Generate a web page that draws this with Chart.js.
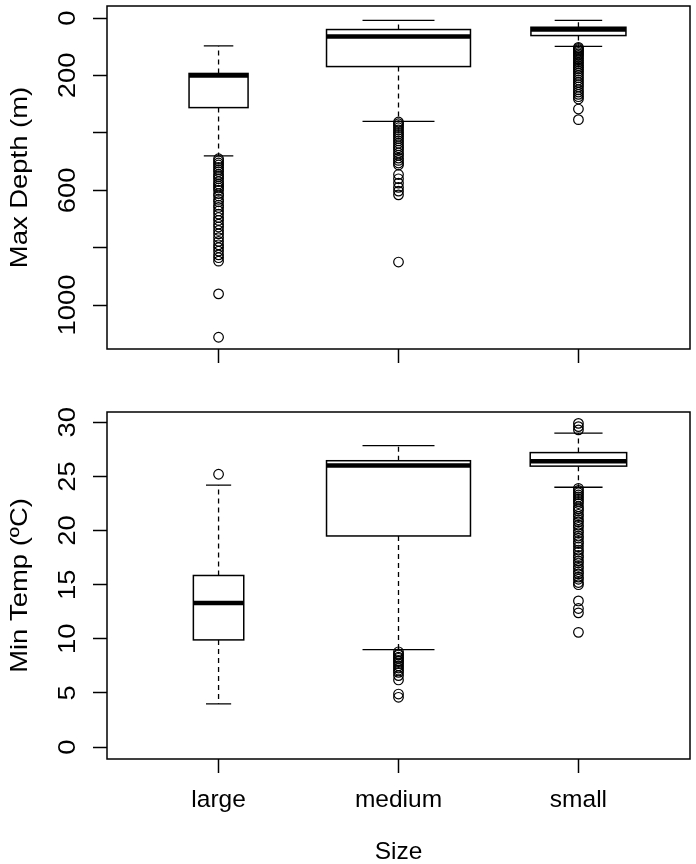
<!DOCTYPE html>
<html><head><meta charset="utf-8">
<script src="https://cdn.jsdelivr.net/npm/chart.js@4.4.0/dist/chart.umd.min.js"></script>
<style>
html,body{margin:0;padding:0;background:#fff;width:696px;height:864px;overflow:hidden}
canvas{position:absolute;left:0}
#c1{top:0}
#c2{top:380px}
</style></head>
<body>
<canvas id="c1" width="696" height="380"></canvas>
<canvas id="c2" width="696" height="484"></canvas>
<script>
const categories = ['large', 'medium', 'small'];

// ---- Max Depth (m) ----
const depthWhiskerLow  = [97, 8, 8];
const depthQ1          = [193, 40, 32];
const depthMedian      = [200, 64, 40];
const depthQ3          = [312, 169, 61];
const depthWhiskerHigh = [480, 360, 99];
const depthRelWidth    = [0.41, 1.0, 0.66];   // varwidth (relative sqrt(n))
const depthOutLarge  = [490, 497, 505, 512, 520, 528, 535, 545, 552, 560, 570, 578, 585, 592, 600, 612, 620, 632, 640, 652, 660, 672, 683, 695, 705, 718, 728, 740, 752, 765, 778, 790, 800, 812, 825, 835, 847, 961, 1112];
const depthOutMedium = [362, 368, 375, 382, 390, 398, 405, 412, 420, 428, 436, 445, 452, 460, 470, 478, 488, 496, 505, 512, 545, 560, 575, 590, 603, 616, 850];
const depthOutSmall  = [102, 106, 110, 115, 120, 125, 130, 136, 142, 148, 154, 160, 166, 172, 178, 185, 192, 200, 208, 216, 224, 232, 240, 250, 258, 266, 274, 282, 317, 354];
const depthTicks      = [0, 200, 400, 600, 800, 1000];
const depthTickLabels = ['0', '200', '', '600', '', '1000'];

// ---- Min Temp (ºC) ----
const tempWhiskerLow  = [4.0, 9.0, 24.0];
const tempQ1          = [9.9, 19.5, 25.95];
const tempMedian      = [13.3, 26.0, 26.4];
const tempQ3          = [15.85, 26.45, 27.2];
const tempWhiskerHigh = [24.2, 27.85, 29.0];
const tempRelWidth    = [0.35, 1.0, 0.67];
const tempOutLarge  = [25.2];
const tempOutMedium = [8.8, 8.6, 8.5, 8.3, 8.2, 8.0, 7.9, 7.7, 7.5, 7.3, 7.1, 6.9, 6.6, 6.2, 4.9, 4.6];
const tempOutSmall  = [29.3, 29.6, 29.9, 23.9, 23.7, 23.5, 23.3, 23.1, 22.9, 22.7, 22.5, 22.2, 22.0, 21.8, 21.5, 21.3, 21.0, 20.8, 20.5, 20.3, 20.0, 19.8, 19.5, 19.3, 19.0, 18.8, 18.5, 18.2, 18.0, 17.7, 17.5, 17.2, 17.0, 16.7, 16.5, 16.2, 16.0, 15.7, 15.5, 15.2, 15.0, 13.5, 12.8, 12.4, 10.6];
const tempTicks      = [0, 5, 10, 15, 20, 25, 30];
const tempTickLabels = ['0', '5', '10', '15', '20', '25', '30'];

const FONT = "'Liberation Sans', Arial, Helvetica, sans-serif";
const FS = 24.5;
const VSTRETCH = 1.12;   // vertical text is taller in the reference image

function toPoints(arrs) {
  const pts = [];
  arrs.forEach((arr, i) => arr.forEach(v => pts.push({x: i + 1, y: v})));
  return pts;
}

function boxPlugin(st, tickVals, tickLabels, title) {
  return {
    id: 'boxdraw',
    afterDatasetsDraw(chart) {
      const {ctx} = chart;
      const x = chart.scales.x, y = chart.scales.y;
      ctx.save();
      ctx.strokeStyle = '#000';
      for (let i = 0; i < categories.length; i++) {
        const cx = x.getPixelForValue(i + 1);
        const hw = x.getPixelForValue(i + 1 + 0.4 * st.w[i]) - cx;
        const pLo = y.getPixelForValue(st.lo[i]);
        const pQ1 = y.getPixelForValue(st.q1[i]);
        const pMed = y.getPixelForValue(st.med[i]);
        const pQ3 = y.getPixelForValue(st.q3[i]);
        const pHi = y.getPixelForValue(st.hi[i]);
        // whiskers (dashed)
        ctx.lineWidth = 1.3;
        ctx.setLineDash([5, 4]);
        ctx.beginPath();
        ctx.moveTo(cx, pQ1); ctx.lineTo(cx, pLo);
        ctx.moveTo(cx, pQ3); ctx.lineTo(cx, pHi);
        ctx.stroke();
        ctx.setLineDash([]);
        // staples
        ctx.beginPath();
        ctx.moveTo(cx - hw / 2, pLo); ctx.lineTo(cx + hw / 2, pLo);
        ctx.moveTo(cx - hw / 2, pHi); ctx.lineTo(cx + hw / 2, pHi);
        ctx.stroke();
        // box
        ctx.fillStyle = '#fff';
        ctx.lineWidth = 1.5;
        const top = Math.min(pQ1, pQ3), h = Math.abs(pQ3 - pQ1);
        ctx.fillRect(cx - hw, top, 2 * hw, h);
        ctx.strokeRect(cx - hw, top, 2 * hw, h);
        // median
        ctx.lineWidth = 4.5;
        ctx.beginPath();
        ctx.moveTo(cx - hw, pMed); ctx.lineTo(cx + hw, pMed);
        ctx.stroke();
      }
      ctx.restore();
    },
    afterDraw(chart) {
      const {ctx, chartArea: ca} = chart;
      const y = chart.scales.y;
      ctx.save();
      ctx.strokeStyle = '#000';
      ctx.lineWidth = 1.5;
      ctx.strokeRect(ca.left, ca.top, ca.right - ca.left, ca.bottom - ca.top);
      ctx.fillStyle = '#000';
      ctx.font = FS + 'px ' + FONT;
      ctx.textAlign = 'center';
      ctx.textBaseline = 'alphabetic';
      // rotated tick labels (parallel to axis)
      tickVals.forEach((v, i) => {
        if (!tickLabels[i]) return;
        const py = y.getPixelForValue(v);
        ctx.save();
        ctx.translate(75, py);
        ctx.rotate(-Math.PI / 2);
        ctx.scale(VSTRETCH, 1);
        ctx.fillText(tickLabels[i], 0, 0);
        ctx.restore();
      });
      // axis title
      ctx.save();
      ctx.translate(27, (ca.top + ca.bottom) / 2);
      ctx.rotate(-Math.PI / 2);
      ctx.scale(VSTRETCH, 1);
      ctx.fillText(title, 0, 0);
      ctx.restore();
      ctx.restore();
    }
  };
}

function makeChart(id, cfg) {
  const ticksY = cfg.ticks;
  return new Chart(document.getElementById(id), {
    type: 'scatter',
    data: {
      datasets: [{
        data: toPoints(cfg.outliers),
        pointRadius: 4.8,
        pointHoverRadius: 4.8,
        pointBorderWidth: 1.2,
        pointBorderColor: '#000',
        pointBackgroundColor: 'rgba(0,0,0,0)',
        pointStyle: 'circle',
        showLine: false
      }]
    },
    options: {
      responsive: false,
      animation: false,
      devicePixelRatio: 1,
      layout: {padding: cfg.padding},
      plugins: {legend: {display: false}, tooltip: {enabled: false}},
      events: [],
      scales: {
        x: {
          type: 'linear',
          min: 0.38, max: 3.62,
          afterBuildTicks: s => { s.ticks = [1, 2, 3].map(v => ({value: v})); },
          afterFit: s => { s.height = cfg.xHeight; },
          border: {display: false},
          grid: {drawOnChartArea: false, drawTicks: true, tickLength: 14, tickColor: '#000', tickWidth: 1.5},
          ticks: {
            display: cfg.showX,
            callback: v => categories[v - 1],
            color: '#000',
            font: {family: FONT, size: FS},
            padding: 13,
            maxRotation: 0, minRotation: 0
          },
          title: {
            display: cfg.showX,
            text: 'Size',
            color: '#000',
            font: {family: FONT, size: FS, lineHeight: 1},
            padding: {top: 0, bottom: 0}
          }
        },
        y: {
          type: 'linear',
          reverse: cfg.reverse,
          min: cfg.min, max: cfg.max,
          afterBuildTicks: s => { s.ticks = ticksY.map(v => ({value: v})); },
          afterFit: s => { s.width = 107; },
          border: {display: false},
          grid: {drawOnChartArea: false, drawTicks: true, tickLength: 14, tickColor: '#000', tickWidth: 1.5},
          ticks: {display: false},
          title: {display: false, text: cfg.title}
        }
      }
    },
    plugins: [boxPlugin(cfg.stats, cfg.ticks, cfg.tickLabels, cfg.title)]
  });
}

makeChart('c1', {
  outliers: [depthOutLarge, depthOutMedium, depthOutSmall],
  stats: {lo: depthWhiskerLow, q1: depthQ1, med: depthMedian, q3: depthQ3, hi: depthWhiskerHigh, w: depthRelWidth},
  ticks: depthTicks, tickLabels: depthTickLabels,
  reverse: true, min: -42, max: 1153,
  title: 'Max Depth (m)',
  showX: false, xHeight: 31,
  padding: {top: 3, right: 2, left: 0, bottom: 0}
});

makeChart('c2', {
  outliers: [tempOutLarge, tempOutMedium, tempOutSmall],
  stats: {lo: tempWhiskerLow, q1: tempQ1, med: tempMedian, q3: tempQ3, hi: tempWhiskerHigh, w: tempRelWidth},
  ticks: tempTicks, tickLabels: tempTickLabels,
  reverse: false, min: -1.1, max: 30.95,
  title: 'Min Temp (ºC)',
  showX: true, xHeight: 105,
  padding: {top: 32, right: 2, left: 0, bottom: 0}
});
</script>
</body></html>
